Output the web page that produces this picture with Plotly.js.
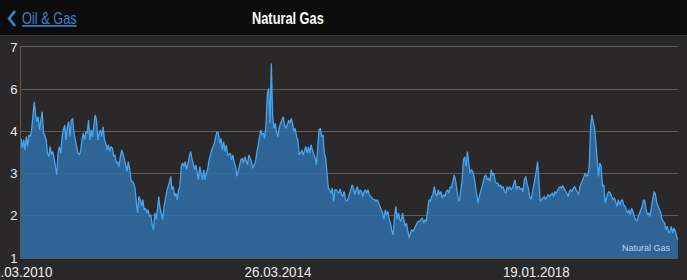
<!DOCTYPE html>
<html><head><meta charset="utf-8">
<script src="https://cdn.plot.ly/plotly-3.0.1.min.js"></script>
<style>html,body{margin:0;padding:0;background:#2a2829;overflow:hidden}#chart{width:687px;height:280px}</style>
</head><body><div id="chart"></div>
<script>
// Natural gas price series (oldest first)
const gasPrice = [
4.40,4.12,4.36,4.07,4.45,4.17,4.50,4.45,4.64,5.16,5.44,5.07,4.88,5.02,4.64,4.92,5.16,4.55,4.50,4.36,
3.98,3.88,4.17,3.93,4.03,3.84,3.60,3.36,3.98,4.17,3.98,4.45,4.64,4.78,4.36,4.73,4.88,4.45,4.92,4.97,
4.55,4.36,4.07,3.98,3.93,4.03,4.36,4.55,4.36,4.59,4.55,4.92,4.36,4.64,4.45,4.73,5.07,4.92,4.36,4.55,
4.64,4.45,4.73,4.36,4.26,4.07,4.22,4.03,4.17,4.12,3.88,3.93,3.70,3.74,3.60,3.88,
4.07,3.98,3.79,3.65,3.46,3.74,3.55,3.22,3.17,3.13,2.99,2.66,2.28,2.75,2.66,2.47,2.66,2.37,2.42,2.28,
2.37,2.18,2.23,1.95,1.80,2.28,2.09,2.37,2.75,2.42,2.28,2.09,2.47,2.75,2.89,3.03,3.13,3.32,2.94,3.03,
2.75,2.84,2.66,2.94,3.03,3.60,3.70,3.60,3.74,3.51,3.70,3.88,4.03,3.84,3.70,3.51,3.65,3.41,3.22,3.60,
3.36,3.22,3.51,3.22,3.41,3.55,3.79,3.98,4.07,4.17,4.26,4.45,4.59,4.55,4.26,4.40,4.07,4.31,4.03,4.22,3.93,
3.93,3.98,3.79,3.93,3.70,3.60,3.32,3.51,3.60,3.79,3.84,3.70,3.88,3.79,3.65,3.93,3.84,3.74,3.55,3.65,
3.74,3.98,4.17,4.45,4.64,4.50,4.55,4.40,4.83,5.68,5.82,4.83,6.53,5.02,4.69,4.83,4.55,4.45,4.73,4.83,
4.92,5.02,4.78,4.69,4.78,4.92,4.83,4.97,4.83,4.59,4.69,4.45,4.36,3.93,3.98,4.07,3.93,4.07,4.17,3.98,
4.17,3.98,4.22,4.07,3.98,3.84,3.65,4.07,4.64,4.69,4.45,4.50,3.98,3.84,3.32,2.99,2.94,2.84,2.99,2.61,2.94,
2.94,2.89,2.84,2.96,2.80,2.75,2.89,2.66,2.61,2.70,2.84,2.94,3.08,2.99,2.80,2.94,3.03,2.80,2.94,2.89,
2.75,2.89,2.94,2.84,2.94,2.80,2.75,2.70,2.66,2.66,2.61,2.66,2.56,2.47,2.37,2.28,2.09,2.37,2.23,2.32,
2.09,1.99,1.76,1.66,2.18,2.47,2.09,2.28,2.09,2.04,2.28,2.09,1.90,1.99,1.76,1.57,1.71,1.80,1.76,1.85,
1.95,1.99,2.04,2.04,2.09,2.14,1.99,2.09,2.04,2.47,2.66,2.61,2.75,2.80,3.03,2.84,2.75,2.94,2.80,2.89,2.70,
2.80,2.75,2.89,2.94,2.84,3.03,2.99,3.22,3.36,3.22,2.94,2.70,2.61,2.94,3.22,3.79,3.88,3.60,4.03,3.70,
3.41,3.51,3.46,3.32,3.03,2.80,2.56,2.75,2.94,3.03,3.17,3.32,3.36,3.22,3.27,3.17,3.51,3.36,3.41,3.17,
3.13,3.13,3.03,3.08,2.99,3.03,2.89,2.84,3.03,2.94,3.03,2.94,2.99,3.13,3.22,2.94,3.03,3.03,2.94,2.99,
2.89,3.22,3.32,3.13,2.99,2.75,2.66,2.84,3.03,3.32,3.46,3.74,3.03,2.61,2.66,2.70,2.75,2.66,2.75,2.80,2.75,
2.80,2.84,2.75,2.89,2.84,2.94,2.99,3.03,2.99,3.05,2.99,2.94,2.84,2.75,2.89,2.94,2.89,2.99,3.03,2.94,
2.84,2.80,3.03,3.13,3.27,3.32,3.41,3.32,3.36,3.60,4.73,5.07,4.88,4.69,4.26,3.79,3.32,3.70,3.60,3.03,
3.08,2.56,2.75,2.84,2.89,2.84,2.75,2.66,2.70,2.56,2.47,2.66,2.51,2.61,2.66,2.51,2.47,2.37,2.28,2.37,
2.23,2.42,2.28,2.18,2.09,2.04,2.18,2.28,2.37,2.47,2.66,2.61,2.37,2.23,2.28,2.18,2.47,2.75,2.89,2.80,
2.56,2.47,2.37,2.28,2.09,2.04,1.99,1.80,1.90,1.71,1.76,1.90,1.71,1.85,1.76,1.61,1.52
];
// x tick labels (dates) and the sample index where each sits
const xTickLabels = ['05.03.2010', '26.03.2014', '19.01.2018'];
const xTickIndex = [0, 194, 389];
// y gridlines and the labels the app prints for them
const yTickValues = [1, 2.2, 3.4, 4.6, 5.8, 7];
const yTickLabels = ['1', '2', '3', '4', '6', '7'];
const seriesName = 'Natural Gas';
const pageTitle = 'Natural Gas';
const backLabel = 'Oil & Gas';

const W = 687, H = 280, M = {l: 21, r: 9, t: 47, b: 22};
const pw = W - M.l - M.r, ph = H - M.t - M.b;
const px = X => (X - M.l) / pw;
const py = Y => (H - M.b - Y) / ph;

const sampleIndex = gasPrice.map((_, i) => i);
const blue = '#3a84c9';

const trace = {
  x: sampleIndex, y: gasPrice, type: 'scatter', mode: 'lines', name: seriesName,
  line: {color: '#47a5ee', width: 1.3},
  fill: 'tozeroy', fillcolor: 'rgba(46,111,169,0.86)',
  hoverinfo: 'skip'
};

const layout = {
  width: W, height: H, margin: M,
  paper_bgcolor: '#2a2829', plot_bgcolor: '#2a2829',
  showlegend: false,
  font: {family: 'Liberation Sans, Arial, sans-serif', color: '#e6e6e6'},
  xaxis: {
    range: [0, gasPrice.length - 1], tickmode: 'array', tickvals: xTickIndex, ticktext: xTickLabels,
    showgrid: false, zeroline: false, showline: true, mirror: true, linecolor: '#5d5b5c', linewidth: 1,
    ticks: '', ticklabeloverflow: 'allow',
    tickfont: {family: 'Liberation Sans, sans-serif', size: 15, color: '#ececec'},
    fixedrange: true
  },
  yaxis: {
    range: [1, 7], tickmode: 'array', tickvals: yTickValues, ticktext: yTickLabels,
    showgrid: true, gridcolor: '#5d5b5c', gridwidth: 1, zeroline: false,
    showline: true, linecolor: '#5d5b5c', linewidth: 1, ticks: '',
    tickfont: {family: 'Liberation Sans, sans-serif', size: 13, color: '#ececec'},
    fixedrange: true
  },
  shapes: [
    {type: 'rect', xref: 'paper', yref: 'paper', x0: px(0), x1: px(W), y0: py(0), y1: py(35), fillcolor: '#0c0c0c', line: {width: 0}, layer: 'above'},
    {type: 'line', xref: 'paper', yref: 'paper', x0: px(0), x1: px(W), y0: py(35.5), y1: py(35.5), line: {color: '#3a3a3a', width: 1}, layer: 'above'},
    {type: 'path', xref: 'paper', yref: 'paper',
     path: `M ${px(15)} ${py(11)} L ${px(9)} ${py(18.5)} L ${px(15)} ${py(26)}`,
     line: {color: blue, width: 2.6}, layer: 'above'}
  ],
  annotations: [
    {xref: 'paper', yref: 'paper', x: px(288), y: py(18.5), xanchor: 'center', yanchor: 'middle', showarrow: false,
     text: pageTitle, font: {family: 'Liberation Sans, sans-serif', size: 16, color: '#ffffff', weight: 'bold'}},
    {xref: 'paper', yref: 'paper', x: px(20), y: py(18.5), xanchor: 'left', yanchor: 'middle', showarrow: false,
     text: '<u>' + backLabel.replace('&', '&amp;') + '</u>', font: {family: 'Liberation Sans, sans-serif', size: 16, color: blue}},
    {xref: 'paper', yref: 'paper', x: px(673), y: py(248), xanchor: 'right', yanchor: 'middle', showarrow: false,
     text: seriesName, font: {family: 'Liberation Sans, sans-serif', size: 9, color: '#c2d6ea'}}
  ]
};

// horizontally condense a text element about a pivot (the app font is narrower than Liberation Sans)
function condense(el, k, pivot, shift) {
  const b = el.getBBox();
  const cx = pivot === 'left' ? b.x : b.x + b.width / 2;
  const prev = el.getAttribute('transform') || '';
  el.setAttribute('transform', `${prev} translate(${cx + (shift || 0)},0) scale(${k},1) translate(${-cx},0)`);
}

Plotly.newPlot('chart', [trace], layout, {staticPlot: true, displayModeBar: false}).then(gd => {
  const ann = gd.querySelectorAll('.annotation-text');
  if (ann[0]) condense(ann[0], 0.8, 'center');
  if (ann[1]) condense(ann[1], 0.8, 'left');
  gd.querySelectorAll('.xtick text').forEach((t, i) => condense(t, 0.89, 'center', i === 0 ? -2 : 0));
});
</script>
</body></html>
